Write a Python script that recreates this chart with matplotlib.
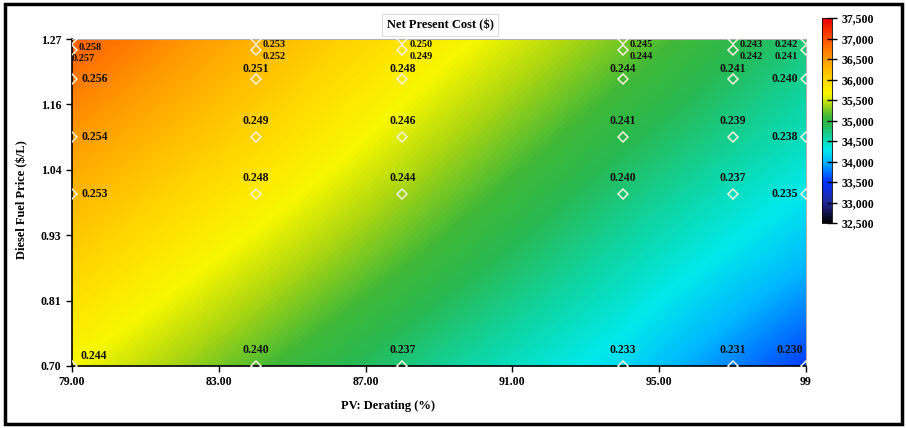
import numpy as np
import matplotlib
matplotlib.use("Agg")
import matplotlib.pyplot as plt
from matplotlib.colors import LinearSegmentedColormap
from matplotlib.patches import Rectangle
from matplotlib.ticker import FuncFormatter

plt.rcParams['font.family'] = ['Liberation Serif', 'DejaVu Serif']
plt.rcParams['font.weight'] = 'bold'

# sensitivity points
derating = [79, 84, 88, 94, 97, 99]                # PV derating (%)
fuel_price = [0.70, 1.00, 1.10, 1.20, 1.25, 1.27]  # diesel price ($/L)

# COE labels ($/kWh), rows = fuel price, cols = derating
coe = [
    [0.244, 0.240, 0.237, 0.233, 0.231, 0.230],
    [0.253, 0.248, 0.244, 0.240, 0.237, 0.235],
    [0.254, 0.249, 0.246, 0.241, 0.239, 0.238],
    [0.256, 0.251, 0.248, 0.244, 0.241, 0.240],
    [0.257, 0.252, 0.249, 0.244, 0.242, 0.241],
    [0.258, 0.253, 0.250, 0.245, 0.243, 0.242],
]

npc_x = [79, 84, 89, 94, 99]
npc_y = [0.70, 0.89, 1.08, 1.27]
npc = [
    [35650, 35150, 34650, 34200, 33550],   # 0.70
    [36050, 35550, 35050, 34550, 34050],   # 0.89
    [36450, 35950, 35400, 34900, 34450],   # 1.08
    [36900, 36300, 35750, 35250, 34750],   # 1.27
]

xticks = [79, 83, 87, 91, 95, 99]
xticklabels = ['79.00', '83.00', '87.00', '91.00', '95.00', '99']
yticks = np.linspace(0.70, 1.27, 6)
cbar_ticks = np.arange(32500, 37501, 500)

cmap = LinearSegmentedColormap.from_list('homer', [
    (0.00, '#000000'),
    (0.10, '#202898'),
    (0.20, '#0030ff'),
    (0.30, '#00b8ff'),
    (0.36, '#00eaea'),
    (0.42, '#10d4a0'),
    (0.48, '#28b850'),
    (0.52, '#40b838'),
    (0.58, '#b0d810'),
    (0.63, '#f8f800'),
    (0.68, '#ffe000'),
    (0.74, '#ffc000'),
    (0.80, '#ff9a00'),
    (0.90, '#ff5000'),
    (1.00, '#e80000'),
])

fig = plt.figure(figsize=(9.06, 4.28), dpi=100)
ax = fig.add_axes([72 / 906, 1 - 366 / 428, 734 / 906, 327 / 428])

dx = (npc_x[1] - npc_x[0]) / 2
dy = (npc_y[1] - npc_y[0]) / 2
img = ax.imshow(np.array(npc, dtype=float), origin='lower', cmap=cmap,
                vmin=32500, vmax=37500, interpolation='bilinear', aspect='auto',
                extent=[npc_x[0] - dx, npc_x[-1] + dx, npc_y[0] - dy, npc_y[-1] + dy])

X, Y = np.meshgrid(derating, fuel_price)
ax.plot(X.ravel(), Y.ravel(), 'D', ms=5.5, mfc='none', mec='#f4f0dc', mew=1.1,
        clip_on=True, zorder=3)

for i, yv in enumerate(fuel_price):
    top_rows = i >= 4
    fs = 7.5 if top_rows else 8.5
    for j, xv in enumerate(derating):
        txt = f"{coe[i][j]:.3f}"
        if j == len(derating) - 1:
            if i == 0:
                off, ha, va = (-2, 7), 'right', 'bottom'
            else:
                off, ha, va = (-6, -4 if top_rows else 0), 'right', 'center'
        elif j == 0:
            if i == 5:
                off, ha, va = (5, -6), 'left', 'center'
            elif i == 4:
                off, ha, va = (0, -6), 'left', 'center'
            elif i == 0:
                off, ha, va = (6, 7), 'left', 'center'
            else:
                off, ha, va = (7, 0), 'left', 'center'
        elif top_rows:
            off, ha, va = (5, -4), 'left', 'center'
        elif i == 3:
            off, ha, va = (0, 3), 'center', 'bottom'
        else:
            off, ha, va = (0, 7), 'center', 'bottom'
        ax.annotate(txt, (xv, yv), xytext=off, textcoords='offset points',
                    ha=ha, va=va, fontsize=fs, fontweight='bold', color='#111111',
                    zorder=4)

ax.set_xlim(79, 99)
ax.set_ylim(0.70, 1.27)
ax.set_xticks(xticks)
ax.set_xticklabels(xticklabels)
ax.set_yticks(yticks)
ax.yaxis.set_major_formatter(FuncFormatter(lambda v, p: f"{v:.2f}"))
ax.tick_params(labelsize=8.5, length=4, width=1, direction='out')
for s in ['left', 'bottom']:
    ax.spines[s].set_linewidth(1.2)
for s in ['top', 'right']:
    ax.spines[s].set_color('#b0b0b0')
    ax.spines[s].set_linewidth(0.8)

fig.text(388 / 906, 1 - 406 / 428, 'PV: Derating (%)', ha='center', va='center',
         fontsize=9, fontweight='bold')
fig.text(22 / 906, 1 - 200 / 428, 'Diesel Fuel Price ($/L)', ha='center', va='center',
         rotation=90, fontsize=9, fontweight='bold')
fig.text(440 / 906, 1 - 25 / 428, 'Net Present Cost ($)', ha='center', va='center',
         fontsize=9, fontweight='bold',
         bbox=dict(boxstyle='square,pad=0.4', fc='white', ec='#dddddd', lw=0.8))

cax = fig.add_axes([822 / 906, 1 - 223 / 428, 10 / 906, 205 / 428])
cb = fig.colorbar(img, cax=cax, ticks=cbar_ticks)
cb.ax.yaxis.set_major_formatter(FuncFormatter(lambda v, p: f"{int(v):,}"))
cb.ax.tick_params(labelsize=8.5, length=7, width=1, direction='inout')
cb.outline.set_linewidth(0.6)

fig.add_artist(Rectangle((5 / 906, 4 / 428), 897 / 906, 420 / 428,
                         transform=fig.transFigure, fill=False, ec='black', lw=2.5))

fig.savefig('out.png', dpi=100)
